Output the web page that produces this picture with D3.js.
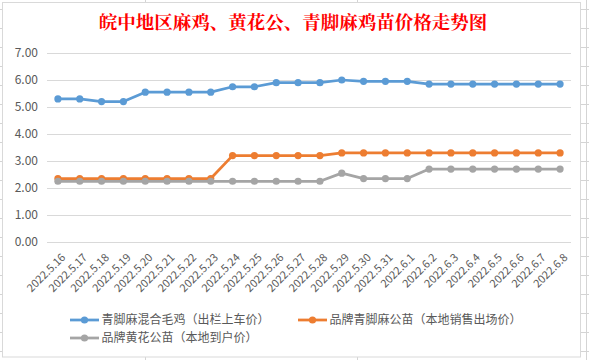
<!DOCTYPE html>
<html>
<head>
<meta charset="utf-8">
<script src="https://cdn.jsdelivr.net/npm/d3@7"></script>
<style>
  body { margin: 0; background: #fff; }
  svg { display: block; }
</style>
</head>
<body>
<svg id="chart" width="589" height="360"></svg>
<script>
// dates on the x axis
const dates = ["2022.5.16", "2022.5.17", "2022.5.18", "2022.5.19", "2022.5.20", "2022.5.21",
  "2022.5.22", "2022.5.23", "2022.5.24", "2022.5.25", "2022.5.26", "2022.5.27", "2022.5.28",
  "2022.5.29", "2022.5.30", "2022.5.31", "2022.6.1", "2022.6.2", "2022.6.3", "2022.6.4",
  "2022.6.5", "2022.6.6", "2022.6.7", "2022.6.8"];

const mixedChicken = [5.3, 5.3, 5.2, 5.2, 5.55, 5.55, 5.55, 5.55, 5.75, 5.75, 5.9, 5.9, 5.9,
  6.0, 5.95, 5.95, 5.95, 5.85, 5.85, 5.85, 5.85, 5.85, 5.85, 5.85];
const brandQingjiao = [2.35, 2.35, 2.35, 2.35, 2.35, 2.35, 2.35, 2.35, 3.2, 3.2, 3.2, 3.2, 3.2,
  3.3, 3.3, 3.3, 3.3, 3.3, 3.3, 3.3, 3.3, 3.3, 3.3, 3.3];
const brandHuanghua = [2.25, 2.25, 2.25, 2.25, 2.25, 2.25, 2.25, 2.25, 2.25, 2.25, 2.25, 2.25, 2.25,
  2.55, 2.35, 2.35, 2.35, 2.7, 2.7, 2.7, 2.7, 2.7, 2.7, 2.7];

const seriesNames = ["青脚麻混合毛鸡（出栏上车价）", "品牌青脚麻公苗（本地销售出场价）", "品牌黄花公苗（本地到户价）"];
const yTicks = [0, 1, 2, 3, 4, 5, 6, 7];
const title = "皖中地区麻鸡、黄花公、青脚麻鸡苗价格走势图";

const series = [
  { name: seriesNames[0], values: mixedChicken, color: "#5B9BD5" },
  { name: seriesNames[1], values: brandQingjiao, color: "#ED7D31" },
  { name: seriesNames[2], values: brandHuanghua, color: "#A5A5A5" }
];

const svg = d3.select("#chart");
const font = "'Noto Sans CJK SC', 'Noto Sans', sans-serif";
const margin = {top: 53, right: 18, bottom: 118, left: 47};
const width = 589 - margin.left - margin.right;
const height = 360 - margin.top - margin.bottom;

// spreadsheet cells peeking out around the chart
const cells = svg.append("g").attr("stroke", "#d4d4d4").attr("stroke-width", 1);
d3.range(9, 360, 19).forEach(y => {
  cells.append("line").attr("x1", 0).attr("x2", 3).attr("y1", y + 0.5).attr("y2", y + 0.5);
  cells.append("line").attr("x1", 581).attr("x2", 589).attr("y1", y + 0.5).attr("y2", y + 0.5);
});
cells.append("line").attr("x1", 586.5).attr("x2", 586.5).attr("y1", 0).attr("y2", 360);
[145, 357].forEach(x => {
  cells.append("line").attr("x1", x + 0.5).attr("x2", x + 0.5).attr("y1", 0).attr("y2", 2);
  cells.append("line").attr("x1", x + 0.5).attr("x2", x + 0.5).attr("y1", 357).attr("y2", 360);
});

// chart frame
svg.append("rect")
  .attr("x", 2.5).attr("y", 2.5)
  .attr("width", 578).attr("height", 354.5)
  .attr("fill", "#fff")
  .attr("stroke", "#d9d9d9");

svg.append("text")
  .attr("x", 293)
  .attr("y", 29)
  .attr("text-anchor", "middle")
  .attr("font-family", "'Noto Serif CJK SC', " + font)
  .attr("font-size", 18.5)
  .attr("font-weight", "bold")
  .attr("fill", "#FF0000")
  .text(title);

const g = svg.append("g").attr("transform", "translate(" + margin.left + "," + margin.top + ")");

const x = d3.scaleBand().domain(dates).range([0, width]);
const y = d3.scaleLinear().domain([0, 7]).range([height, 0]);
const cx = d => x(d) + x.bandwidth() / 2;

// gridlines + y labels
const yAxis = g.append("g")
  .call(d3.axisLeft(y).tickValues(yTicks).tickSize(-width).tickFormat(d3.format(".2f")));
yAxis.select(".domain").remove();
yAxis.selectAll(".tick line").attr("stroke", "#d9d9d9");
yAxis.selectAll(".tick text")
  .attr("x", -9)
  .attr("fill", "#595959")
  .attr("font-family", font)
  .attr("font-size", 12);

// x labels, rotated
const xAxis = g.append("g")
  .attr("transform", "translate(0," + height + ")")
  .call(d3.axisBottom(x).tickSize(0));
xAxis.select(".domain").remove();
xAxis.selectAll(".tick text")
  .attr("font-family", font)
  .attr("font-size", 11)
  .attr("fill", "#595959")
  .attr("text-anchor", "end")
  .attr("dy", 0)
  .attr("transform", "translate(6,14) rotate(-45)");

const line = d3.line()
  .x((d, i) => cx(dates[i]))
  .y(d => y(d));

series.forEach(s => {
  g.append("path")
    .datum(s.values)
    .attr("fill", "none")
    .attr("stroke", s.color)
    .attr("stroke-width", 2.75)
    .attr("stroke-linejoin", "round")
    .attr("d", line);

  g.append("g")
    .selectAll("circle")
    .data(s.values)
    .join("circle")
    .attr("cx", (d, i) => cx(dates[i]))
    .attr("cy", d => y(d))
    .attr("r", 3.6)
    .attr("fill", s.color);
});

// legend
const legendPos = [[70, 320], [298, 320], [70, 338]];
const legend = svg.append("g")
  .selectAll("g")
  .data(series)
  .join("g")
  .attr("transform", (d, i) => "translate(" + legendPos[i][0] + "," + legendPos[i][1] + ")");

legend.append("line")
  .attr("x1", 0).attr("x2", 29)
  .attr("stroke", d => d.color)
  .attr("stroke-width", 2.75);

legend.append("circle")
  .attr("cx", 14.5)
  .attr("r", 3.6)
  .attr("fill", d => d.color);

legend.append("text")
  .attr("x", 31.5)
  .attr("dy", "0.36em")
  .attr("font-family", font)
  .attr("font-size", 12)
  .attr("fill", "#595959")
  .text(d => d.name);
</script>
</body>
</html>
